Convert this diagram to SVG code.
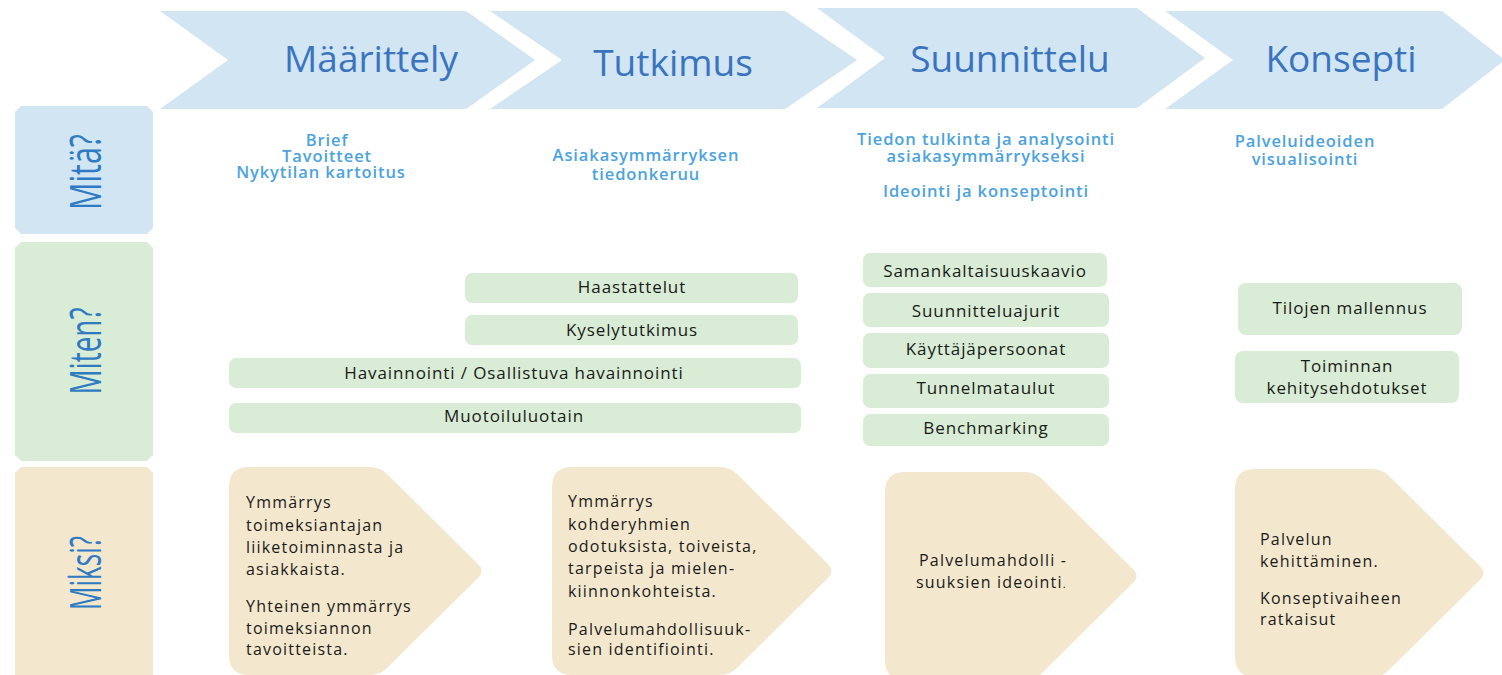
<svg xmlns="http://www.w3.org/2000/svg" width="1502" height="675" viewBox="0 0 1502 675">
<style>
.chev{fill:#d1e5f3}
.ttl{font-family:"Open Sans","Noto Sans",sans-serif;font-size:37px;fill:#3a74bf;text-anchor:middle}
.side{font-family:"Open Sans","Noto Sans",sans-serif;font-size:44px;fill:#2e7bc4;text-anchor:middle}
.what{font-family:"Open Sans","Noto Sans",sans-serif;font-size:16.5px;font-weight:600;letter-spacing:0.9px;fill:#4ba3de;text-anchor:middle}
.gbox{fill:#d9ecd5}
.how{font-family:"Open Sans","Noto Sans",sans-serif;font-size:17px;letter-spacing:0.9px;fill:#1a1a1a;text-anchor:middle}
.why{fill:#f3e8cd}
.whyt{font-family:"Open Sans","Noto Sans",sans-serif;font-size:16px;letter-spacing:1.2px;fill:#1a1a1a}
</style>

<g id="chevron-maarittely">
<polygon class="chev" points="160,11 466,11 535,60 466,109 160,109 228,60"/>
<text class="ttl" x="371" y="72">Määrittely</text>
</g>
<g id="chevron-tutkimus">
<polygon class="chev" points="490,11 785,11 857,60 785,109 490,109 562,60"/>
<text class="ttl" x="673" y="76">Tutkimus</text>
</g>
<g id="chevron-suunnittelu">
<polygon class="chev" points="817,8 1137,8 1205,58 1137,108 817,108 885,58"/>
<text class="ttl" x="1010" y="72">Suunnittelu</text>
</g>
<g id="chevron-konsepti">
<polygon class="chev" points="1165,11 1442,11 1505,60 1442,109 1165,109 1233,60"/>
<text class="ttl" x="1341" y="72">Konsepti</text>
</g>

<g id="label-mita">
<polygon fill="#d1e5f3" points="21,106 147,106 153,112 153,228 147,234 21,234 15,228 15,112"/>
<text class="side" transform="translate(101,172) rotate(-90)" textLength="76" lengthAdjust="spacingAndGlyphs">Mitä?</text>
</g>
<g id="label-miten">
<polygon fill="#d9ecd5" points="21,242 147,242 153,248 153,455 147,461 21,461 15,455 15,248"/>
<text class="side" transform="translate(101,351) rotate(-90)" textLength="87" lengthAdjust="spacingAndGlyphs">Miten?</text>
</g>
<g id="label-miksi">
<polygon fill="#f3e8cd" points="21,467 147,467 153,473 153,675 15,675 15,473"/>
<text class="side" transform="translate(101,573) rotate(-90)" textLength="74" lengthAdjust="spacingAndGlyphs">Miksi?</text>
</g>

<g id="mita-maarittely">
<text class="what" x="327" y="146">Brief</text>
<text class="what" x="327" y="162">Tavoitteet</text>
<text class="what" x="321" y="178">Nykytilan kartoitus</text>
</g>
<g id="mita-tutkimus">
<text class="what" x="646" y="161">Asiakasymmärryksen</text>
<text class="what" x="646" y="180">tiedonkeruu</text>
</g>
<g id="mita-suunnittelu">
<text class="what" x="986" y="145">Tiedon tulkinta ja analysointi</text>
<text class="what" x="986" y="162">asiakasymmärrykseksi</text>
<text class="what" x="986" y="197">Ideointi ja konseptointi</text>
</g>
<g id="mita-konsepti">
<text class="what" x="1305" y="147">Palveluideoiden</text>
<text class="what" x="1305" y="165">visualisointi</text>
</g>

<g id="miten-haastattelut">
<rect class="gbox" x="465" y="273" width="333" height="30" rx="7"/>
<text class="how" x="632" y="293">Haastattelut</text>
</g>
<g id="miten-kyselytutkimus">
<rect class="gbox" x="465" y="315" width="333" height="30" rx="7"/>
<text class="how" x="632" y="336">Kyselytutkimus</text>
</g>
<g id="miten-havainnointi">
<rect class="gbox" x="229" y="358" width="572" height="30" rx="7"/>
<text class="how" x="514" y="379">Havainnointi / Osallistuva havainnointi</text>
</g>
<g id="miten-muotoiluluotain">
<rect class="gbox" x="229" y="403" width="572" height="30" rx="7"/>
<text class="how" x="514" y="422">Muotoiluluotain</text>
</g>
<g id="miten-samankaltaisuuskaavio">
<rect class="gbox" x="863" y="253" width="244" height="34" rx="7"/>
<text class="how" x="985" y="277">Samankaltaisuuskaavio</text>
</g>
<g id="miten-suunnitteluajurit">
<rect class="gbox" x="863" y="293" width="246" height="34" rx="7"/>
<text class="how" x="986" y="317">Suunnitteluajurit</text>
</g>
<g id="miten-kayttajapersoonat">
<rect class="gbox" x="863" y="333" width="246" height="35" rx="7"/>
<text class="how" x="986" y="355">Käyttäjäpersoonat</text>
</g>
<g id="miten-tunnelmataulut">
<rect class="gbox" x="863" y="374" width="246" height="34" rx="7"/>
<text class="how" x="986" y="394">Tunnelmataulut</text>
</g>
<g id="miten-benchmarking">
<rect class="gbox" x="863" y="414" width="246" height="32" rx="7"/>
<text class="how" x="986" y="434">Benchmarking</text>
</g>
<g id="miten-tilojen">
<rect class="gbox" x="1238" y="283" width="224" height="52" rx="8"/>
<text class="how" x="1350" y="314">Tilojen mallennus</text>
</g>
<g id="miten-toiminnan">
<rect class="gbox" x="1235" y="351" width="224" height="52" rx="8"/>
<text class="how" x="1347" y="372">Toiminnan</text>
<text class="how" x="1347" y="394">kehitysehdotukset</text>
</g>

<g id="miksi-maarittely">
<path class="why" d="M249,467 L370,467 Q380,467 387,474 L478,564 Q485,571 478,578 L387,668 Q380,675 370,675 L249,675 Q229,675 229,655 L229,487 Q229,467 249,467 Z"/>
<text class="whyt" x="246" y="508">Ymmärrys</text>
<text class="whyt" x="246" y="531">toimeksiantajan</text>
<text class="whyt" x="246" y="553">liiketoiminnasta ja</text>
<text class="whyt" x="246" y="575">asiakkaista.</text>
<text class="whyt" x="246" y="612">Yhteinen ymmärrys</text>
<text class="whyt" x="246" y="634">toimeksiannon</text>
<text class="whyt" x="246" y="655">tavoitteista.</text>
</g>
<g id="miksi-tutkimus">
<path class="why" d="M572,467 L720,467 Q730,467 737,474 L828,564 Q835,571 828,578 L737,668 Q730,675 720,675 L572,675 Q552,675 552,655 L552,487 Q552,467 572,467 Z"/>
<text class="whyt" x="568" y="507">Ymmärrys</text>
<text class="whyt" x="568" y="530">kohderyhmien</text>
<text class="whyt" x="568" y="552">odotuksista, toiveista,</text>
<text class="whyt" x="568" y="574">tarpeista ja mielen-</text>
<text class="whyt" x="568" y="597">kiinnonkohteista.</text>
<text class="whyt" x="568" y="635">Palvelumahdollisuuk-</text>
<text class="whyt" x="568" y="655">sien identifiointi.</text>
</g>
<g id="miksi-suunnittelu">
<path class="why" d="M905,472 L1025,472 Q1035,472 1042,479 L1133,569 Q1140,576 1133,583 L1042,673 Q1035,680 1025,680 L905,680 Q885,680 885,660 L885,492 Q885,472 905,472 Z"/>
<text class="whyt" x="919" y="566">Palvelumahdolli -</text>
<text class="whyt" x="916" y="588">suuksien ideointi<tspan font-size="11">.</tspan></text>
</g>
<g id="miksi-konsepti">
<path class="why" d="M1255,469 L1372,469 Q1382,469 1389,476 L1480,566 Q1487,573 1480,580 L1389,670 Q1382,677 1372,677 L1255,677 Q1235,677 1235,657 L1235,489 Q1235,469 1255,469 Z"/>
<text class="whyt" x="1260" y="545">Palvelun</text>
<text class="whyt" x="1260" y="567">kehittäminen.</text>
<text class="whyt" x="1260" y="604">Konseptivaiheen</text>
<text class="whyt" x="1260" y="625">ratkaisut</text>
</g>

<g id="connectors"></g>
</svg>
